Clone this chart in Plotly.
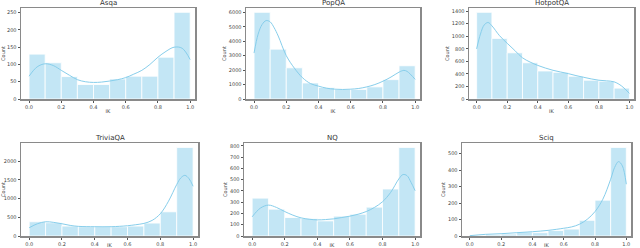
import plotly.graph_objects as go

titles = ["Asqa", "PopQA", "HotpotQA", "TriviaQA", "NQ", "Sciq"]
bin_centers = [0.05, 0.15, 0.25, 0.35, 0.45, 0.55, 0.65, 0.75, 0.85, 0.95]

asqa_counts = [130, 105, 65, 42, 42, 58, 66, 66, 121, 251]
popqa_counts = [6000, 3450, 2160, 1110, 800, 660, 660, 840, 1340, 2300]
hotpot_counts = [1380, 965, 735, 577, 446, 425, 362, 299, 283, 173]
trivia_counts = [380, 354, 265, 248, 248, 248, 265, 345, 646, 2364]
nq_counts = [336, 238, 164, 155, 134, 176, 193, 256, 417, 786]
sciq_counts = [3, 8, 12, 24, 20, 33, 42, 95, 217, 537]

kde_x_a = [0.0, 0.05, 0.1, 0.15, 0.2, 0.25, 0.3, 0.35, 0.4, 0.45, 0.5, 0.55, 0.6, 0.65, 0.7, 0.75, 0.8, 0.85, 0.9, 0.95, 1.0]
asqa_kde = [66, 93, 102, 97, 83, 69, 56, 50, 48, 49, 52, 56, 62, 72, 83, 100, 121, 138, 150, 147, 114]

kde_x_p = [0.0, 0.025, 0.05, 0.075, 0.1, 0.125, 0.15, 0.2, 0.25, 0.3, 0.35, 0.4, 0.45, 0.5, 0.55, 0.6, 0.65, 0.7, 0.75, 0.8, 0.85, 0.9, 0.93, 0.95, 1.0]
popqa_kde = [3180, 4480, 5160, 5430, 5340, 4930, 4360, 3000, 2140, 1480, 1070, 890, 750, 680, 660, 680, 730, 840, 1000, 1230, 1520, 1860, 1980, 1910, 1360]

kde_x_h = [0.0, 0.025, 0.05, 0.075, 0.1, 0.15, 0.2, 0.25, 0.3, 0.35, 0.4, 0.45, 0.5, 0.55, 0.6, 0.65, 0.7, 0.75, 0.8, 0.85, 0.9, 0.95, 1.0]
hotpot_kde = [798, 1034, 1181, 1218, 1165, 1008, 887, 772, 656, 588, 535, 493, 457, 430, 404, 373, 346, 320, 299, 289, 273, 205, 89]

kde_x_t = [0.0, 0.05, 0.1, 0.15, 0.2, 0.25, 0.3, 0.4, 0.5, 0.6, 0.65, 0.7, 0.75, 0.8, 0.85, 0.9, 0.925, 0.95, 0.975, 1.0]
trivia_kde = [221, 327, 380, 363, 327, 283, 257, 248, 248, 274, 301, 336, 416, 593, 929, 1372, 1549, 1619, 1531, 1327]

kde_x_n = [0.0, 0.05, 0.1, 0.15, 0.2, 0.25, 0.3, 0.35, 0.4, 0.45, 0.5, 0.55, 0.6, 0.65, 0.7, 0.75, 0.8, 0.85, 0.9, 0.925, 0.95, 0.975, 1.0]
nq_kde = [170, 247, 274, 253, 217, 185, 161, 149, 143, 146, 152, 164, 176, 193, 217, 253, 304, 387, 506, 545, 536, 476, 402]

kde_x_s = [0.0, 0.1, 0.2, 0.3, 0.4, 0.5, 0.6, 0.65, 0.7, 0.75, 0.8, 0.85, 0.9, 0.925, 0.95, 0.975, 1.0]
sciq_kde = [2, 10, 14, 20, 26, 34, 47, 55, 71, 101, 148, 223, 344, 415, 451, 425, 314]

x_ticks = [0.0, 0.2, 0.4, 0.6, 0.8, 1.0]
x_tick_labels = ["0.0", "0.2", "0.4", "0.6", "0.8", "1.0"]
y_ticks = [
    [0, 50, 100, 150, 200, 250],
    [0, 1000, 2000, 3000, 4000, 5000, 6000],
    [0, 200, 400, 600, 800, 1000, 1200, 1400],
    [0, 500, 1000, 1500, 2000],
    [0, 100, 200, 300, 400, 500, 600, 700, 800],
    [0, 100, 200, 300, 400, 500],
]

counts = [asqa_counts, popqa_counts, hotpot_counts, trivia_counts, nq_counts, sciq_counts]
kde_xs = [kde_x_a, kde_x_p, kde_x_h, kde_x_t, kde_x_n, kde_x_s]
kdes = [asqa_kde, popqa_kde, hotpot_kde, trivia_kde, nq_kde, sciq_kde]

W, H = 640, 248
# pixel boxes (left, right, top, bottom)
boxes = [
    (21, 195, 8, 99),
    (246, 420, 8, 99),
    (469, 634, 8, 99),
    (21, 198, 143, 236),
    (244, 420, 143, 236),
    (462, 631, 143, 236),
]

bar_color = "rgba(135,206,235,0.5)"
line_color = "#87CEEB"
FONT = "DejaVu Sans"

fig = go.Figure()
annotations = []
for i in range(6):
    ax = "" if i == 0 else str(i + 1)
    xa, ya = "x" + ax, "y" + ax
    l, r, t, b = boxes[i]
    fig.add_trace(go.Bar(
        x=bin_centers, y=counts[i], width=0.1,
        marker=dict(color=bar_color, line=dict(color="white", width=0.8)),
        xaxis=xa, yaxis=ya, showlegend=False, hoverinfo="skip"))
    fig.add_trace(go.Scatter(
        x=kde_xs[i], y=kdes[i], mode="lines",
        line=dict(color=line_color, width=1, shape="spline", smoothing=1.0),
        xaxis=xa, yaxis=ya, showlegend=False, hoverinfo="skip"))
    ymax = max(counts[i]) * 1.05
    common = dict(showline=True, linecolor="#8a8a8a", linewidth=1.5, mirror=True,
                  showgrid=False, zeroline=False, ticks="outside", ticklen=2,
                  tickcolor="#555", automargin=False,
                  tickfont=dict(size=5, color="#444", family=FONT))
    fig.layout["xaxis" + ax] = dict(
        domain=[l / W, r / W], anchor=ya, range=[-0.05, 1.03],
        tickvals=x_ticks, ticktext=x_tick_labels,
        title=dict(text="IK", font=dict(size=5, color="#444", family=FONT), standoff=1),
        **common)
    fig.layout["yaxis" + ax] = dict(
        domain=[1 - b / H, 1 - t / H], anchor=xa, range=[0, ymax],
        tickvals=y_ticks[i], ticktext=[str(v) for v in y_ticks[i]],
        title=dict(text="Count", font=dict(size=5, color="#444", family=FONT), standoff=2),
        **common)
    annotations.append(dict(
        text=titles[i], x=(l + r) / 2 / W, y=1 - t / H, xref="paper", yref="paper",
        xanchor="center", yanchor="bottom", yshift=-1, showarrow=False,
        font=dict(size=7, color="#333", family=FONT)))

fig.update_layout(
    template="none",
    width=W, height=H, margin=dict(l=0, r=0, t=0, b=0, autoexpand=False),
    paper_bgcolor="white", plot_bgcolor="white",
    bargap=0, annotations=annotations, hovermode=False)

fig.write_html("out.html",
               config={"displayModeBar": False, "staticPlot": True},
               post_script="document.body.style.margin='0';document.body.style.overflow='hidden';")
